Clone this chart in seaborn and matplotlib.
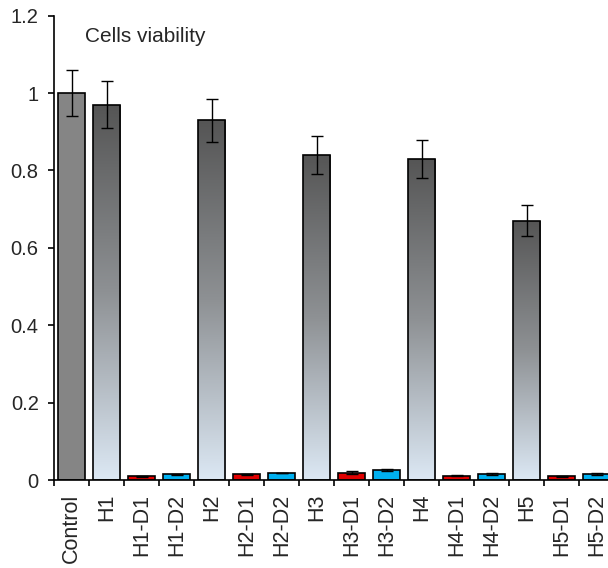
import numpy as np
import pandas as pd
import seaborn as sns
import matplotlib.pyplot as plt
from matplotlib.colors import LinearSegmentedColormap

# data
groups = ["Control", "H1", "H1-D1", "H1-D2", "H2", "H2-D1", "H2-D2",
          "H3", "H3-D1", "H3-D2", "H4", "H4-D1", "H4-D2",
          "H5", "H5-D1", "H5-D2"]
viability = [1.00, 0.97, 0.010, 0.015, 0.93, 0.015, 0.018,
             0.84, 0.019, 0.026, 0.83, 0.011, 0.015,
             0.67, 0.010, 0.015]
errors = [0.06, 0.06, 0.001, 0.001, 0.056, 0.001, 0.001,
          0.05, 0.003, 0.002, 0.05, 0.001, 0.003,
          0.04, 0.001, 0.003]
yticks = [0, 0.2, 0.4, 0.6, 0.8, 1.0, 1.2]

df = pd.DataFrame({"group": groups, "viability": viability, "err": errors})

colors = {}
for g in groups:
    if g == "Control":
        colors[g] = "#858585"
    elif g.endswith("D1"):
        colors[g] = "#e00000"
    elif g.endswith("D2"):
        colors[g] = "#00b0f0"
    else:
        colors[g] = "#ffffff"

sns.set_style("ticks")
plt.rcParams["font.family"] = ["Liberation Sans", "DejaVu Sans"]

fig = plt.figure(figsize=(6.08, 5.68), dpi=100)
ax = fig.add_axes([54 / 608, 88 / 568, 560 / 608, 464.3 / 568])

sns.barplot(data=df, x="group", y="viability", hue="group", palette=colors,
            saturation=1, legend=False, width=0.78, edgecolor="black",
            linewidth=1.2, errorbar=None, ax=ax)

ax.errorbar(np.arange(len(groups)), df["viability"], yerr=df["err"],
            fmt="none", ecolor="black", elinewidth=1, capsize=4.3,
            capthick=1, zorder=5)

# gradient fill for the H bars
cmap = LinearSegmentedColormap.from_list("grad", ["#dce8f4", "#8e9194", "#555555"])
grad = np.linspace(0, 1, 256).reshape(-1, 1)
for patch, g in zip(ax.patches, groups):
    if g.startswith("H") and "-" not in g:
        x0, y0 = patch.get_x(), patch.get_y()
        w, h = patch.get_width(), patch.get_height()
        im = ax.imshow(grad, cmap=cmap, aspect="auto", origin="lower",
                       extent=[x0, x0 + w, y0, y0 + h],
                       zorder=patch.get_zorder() - 0.1)
        im.set_clip_path(patch)
        patch.set_facecolor("none")

ax.set_xlim(-0.5, len(groups) - 0.5)
ax.set_ylim(0, 1.2)
ax.set_yticks(yticks)
ax.set_yticklabels(["{:g}".format(t) for t in yticks])
ax.set_xticks(np.arange(len(groups)))
ax.set_xticklabels(groups, rotation=90)
ax.set_xticks(np.arange(len(groups) + 1) - 0.5, minor=True)
ax.tick_params(axis="x", which="major", length=0, pad=10, labelsize=15.5)
ax.tick_params(axis="x", which="minor", length=4, width=1.2, color="black")
ax.tick_params(axis="y", length=4, width=1.2, pad=7, labelsize=14.5, color="black")
ax.set_xlabel("")
ax.set_ylabel("")

for side in ["top", "right"]:
    ax.spines[side].set_visible(False)
for side in ["left", "bottom"]:
    ax.spines[side].set_linewidth(1.2)
    ax.spines[side].set_color("black")

ax.text(0.055, 0.943, "Cells viability", transform=ax.transAxes,
        fontsize=15, va="baseline", ha="left")

fig.savefig("out.png", dpi=100)
